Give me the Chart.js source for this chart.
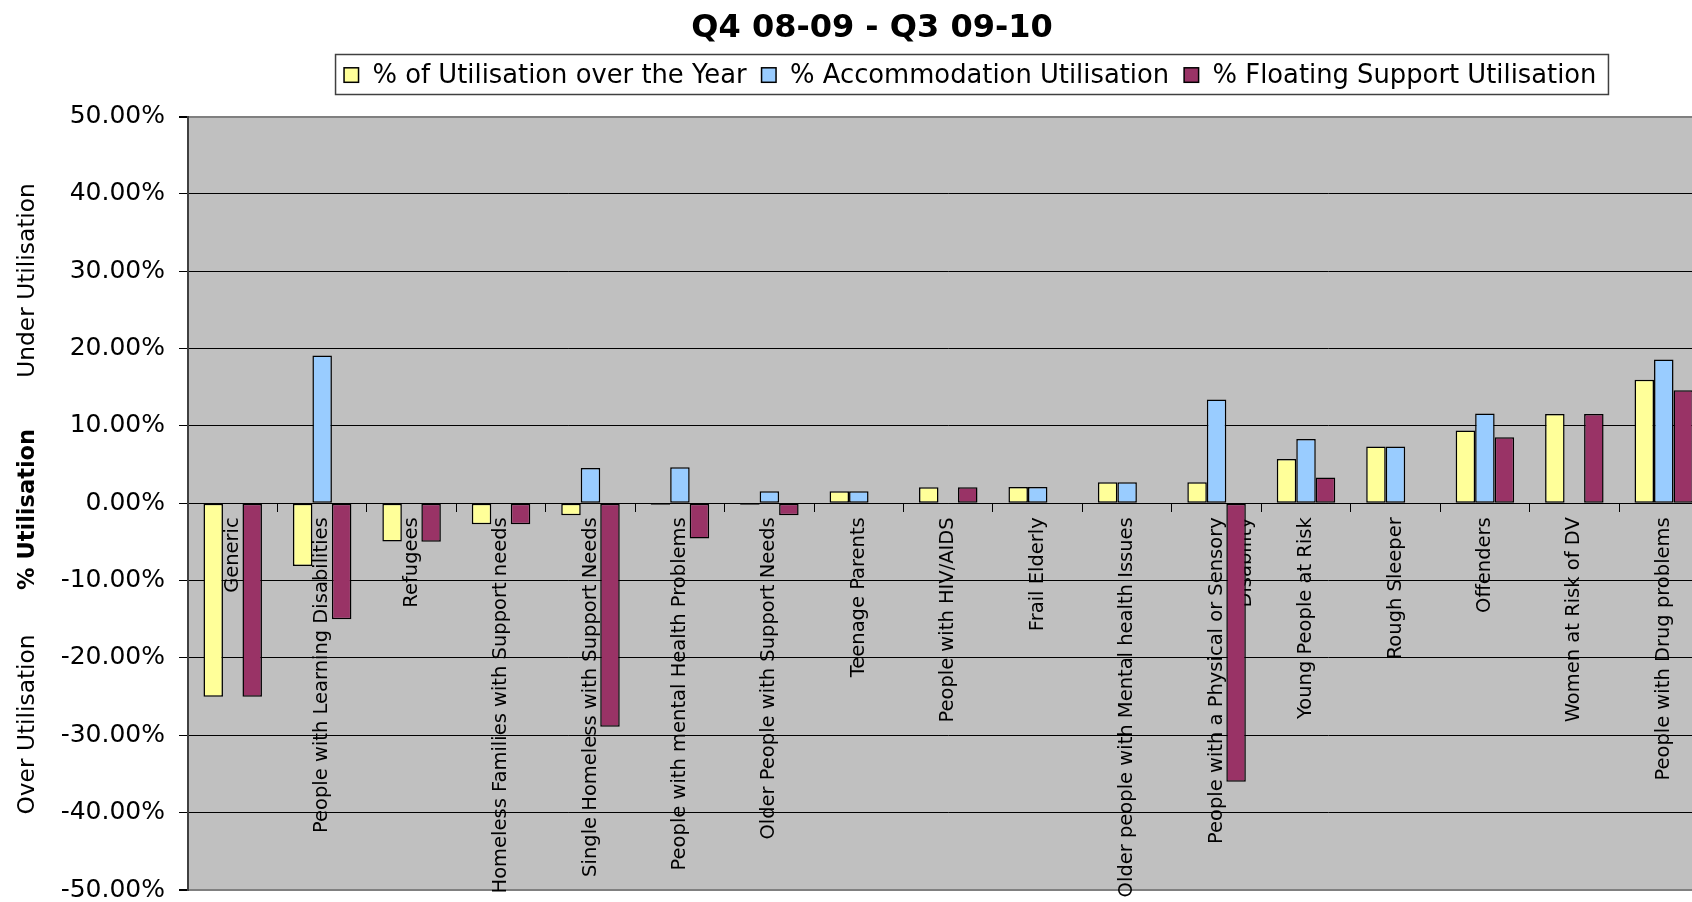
<!DOCTYPE html>
<html>
<head>
<meta charset="utf-8">
<script src="https://cdn.jsdelivr.net/npm/chart.js@4.4.1/dist/chart.umd.min.js"></script>
<style>
    html, body { margin: 0; padding: 0; overflow: hidden; background: #fff; }
    #wrap { width: 1720px; height: 914px; position: relative; }
</style>
</head>
<body>
<div id="wrap"><canvas id="chart"></canvas></div>
<script>
// Chart values (percent)
var chartTitle = "Q4 08-09 - Q3 09-10";
var categories = [
    "Generic",
    "People with Learning Disabilities",
    "Refugees",
    "Homeless Families with Support needs",
    "Single Homeless with Support Needs",
    "People with mental Health Problems",
    "Older People with Support Needs",
    "Teenage Parents",
    "People with HIV/AIDS",
    "Frail Elderly",
    "Older people with Mental health Issues",
    ["People with a Physical or Sensory", "Disability"],
    "Young People at Risk",
    "Rough Sleeper",
    "Offenders",
    "Women at Risk of DV",
    "People with Drug problems"
];
var seriesNames = [
    "% of Utilisation over the Year",
    "% Accommodation Utilisation",
    "% Floating Support Utilisation"
];
var yearUtil  = [-25.0, -8.1, -4.95, -2.7, -1.55, -0.2, -0.2, 1.55, 2.07, 2.1, 2.7, 2.7, 5.73, 7.33, 9.39, 11.55, 15.98];
var accomUtil = [null, 19.1, null, null, 4.57, 4.65, 1.55, 1.55, null, 2.1, 2.7, 13.4, 8.32, 7.33, 11.59, null, 18.57];
var floatUtil = [-25.0, -15.0, -4.97, -2.7, -28.9, -4.56, -1.55, null, 2.07, null, null, -36.0, 3.32, null, 8.53, 11.55, 14.6];
var yMin = -50, yMax = 50, yStep = 10;
var sideTitles = [
    { text: "Under Utilisation", value: 28.8, bold: false },
    { text: "% Utilisation", value: -0.8, bold: true },
    { text: "Over Utilisation", value: -28.6, bold: false }
];

var FONT = "'DejaVu Sans', sans-serif";

// Grey plot area, title, boxed legend and the three axis captions
var decorations = {
    id: "decorations",
    beforeDraw: function (chart) {
        var ctx = chart.ctx, a = chart.chartArea;
        ctx.save();
        ctx.fillStyle = "#C0C0C0";
        ctx.fillRect(a.left, a.top, a.right - a.left, a.bottom - a.top);
        ctx.restore();
    },
    afterDraw: function (chart) {
        var ctx = chart.ctx;
        ctx.save();

        // title
        ctx.fillStyle = "#000";
        ctx.font = "bold 32px " + FONT;
        ctx.textAlign = "center";
        ctx.textBaseline = "alphabetic";
        ctx.fillText(chartTitle, 872, 36.5);

        // legend
        ctx.font = "25.8px " + FONT;
        var sets = chart.data.datasets;
        var marker = 14.5, gapText = 14, gapItem = 15;
        var widths = sets.map(function (d) { return ctx.measureText(d.label).width; });
        var total = 0;
        widths.forEach(function (w, i) { total += marker + gapText + w + (i < widths.length - 1 ? gapItem : 0); });
        var padL = 8.5, padR = 12;
        var boxW = padL + total + padR;
        var boxX = 972 - boxW / 2, boxY = 54.5, boxH = 40;
        ctx.fillStyle = "#fff";
        ctx.fillRect(boxX, boxY, boxW, boxH);
        ctx.strokeStyle = "#404040";
        ctx.lineWidth = 1.5;
        ctx.strokeRect(boxX, boxY, boxW, boxH);
        var x = boxX + padL;
        ctx.textAlign = "left";
        sets.forEach(function (d, i) {
            ctx.fillStyle = d.backgroundColor;
            ctx.fillRect(x, 67.8, marker, marker);
            ctx.strokeStyle = "#000";
            ctx.lineWidth = 1.5;
            ctx.strokeRect(x, 67.8, marker, marker);
            ctx.fillStyle = "#000";
            ctx.fillText(d.label, x + marker + gapText, 83.3);
            x += marker + gapText + widths[i] + gapItem;
        });

        // vertical captions left of the axis
        var yScale = chart.scales.y;
        sideTitles.forEach(function (t) {
            ctx.save();
            ctx.translate(28, yScale.getPixelForValue(t.value));
            ctx.rotate(-Math.PI / 2);
            ctx.font = (t.bold ? "bold 22.5px " : "23.3px ") + FONT;
            ctx.fillStyle = "#000";
            ctx.textAlign = "center";
            ctx.textBaseline = "middle";
            ctx.fillText(t.text, 0, 0);
            ctx.restore();
        });

        ctx.restore();
    }
};

var barStyle = { borderColor: "#000", borderWidth: 1.5, borderSkipped: false };

new Chart(document.getElementById("chart").getContext("2d"), {
    type: "bar",
    data: {
        labels: categories,
        datasets: [
            Object.assign({ label: seriesNames[0], data: yearUtil,  backgroundColor: "#FFFF99" }, barStyle),
            Object.assign({ label: seriesNames[1], data: accomUtil, backgroundColor: "#99CCFF" }, barStyle),
            Object.assign({ label: seriesNames[2], data: floatUtil, backgroundColor: "#993366" }, barStyle)
        ]
    },
    options: {
        responsive: true,
        maintainAspectRatio: false,
        animation: false,
        devicePixelRatio: 1,
        layout: { padding: { top: 116.5, right: 11.5, bottom: 24, left: 0 } },
        datasets: { bar: { categoryPercentage: 0.654, barPercentage: 1 } },
        plugins: {
            legend: { display: false },
            title: { display: false },
            tooltip: { enabled: false }
        },
        scales: {
            x: {
                position: { y: 0 },
                z: 1,
                offset: true,
                grid: { drawOnChartArea: false, drawTicks: true, tickLength: 8, color: "#000", offset: true },
                border: { display: true, color: "#000", width: 1 },
                ticks: {
                    autoSkip: false,
                    minRotation: 90,
                    maxRotation: 90,
                    padding: 6,
                    color: "#000",
                    font: { family: FONT, size: 19.5, lineHeight: 1.5 }
                }
            },
            y: {
                min: yMin,
                max: yMax,
                afterFit: function (scale) { scale.width = 188; },
                ticks: {
                    stepSize: yStep,
                    padding: 14,
                    color: "#000",
                    font: { family: FONT, size: 25, lineHeight: 0.8 },
                    callback: function (v) { return v.toFixed(2) + "%"; }
                },
                grid: {
                    color: function (c) { return Math.abs(c.tick.value) === 50 ? "#808080" : "#000"; },
                    lineWidth: function (c) { return Math.abs(c.tick.value) === 50 ? 2 : 1; },
                    tickColor: "#000",
                    tickLength: 9
                },
                border: { color: "#404040", width: 2 }
            }
        }
    },
    plugins: [decorations]
});
</script>
</body>
</html>
